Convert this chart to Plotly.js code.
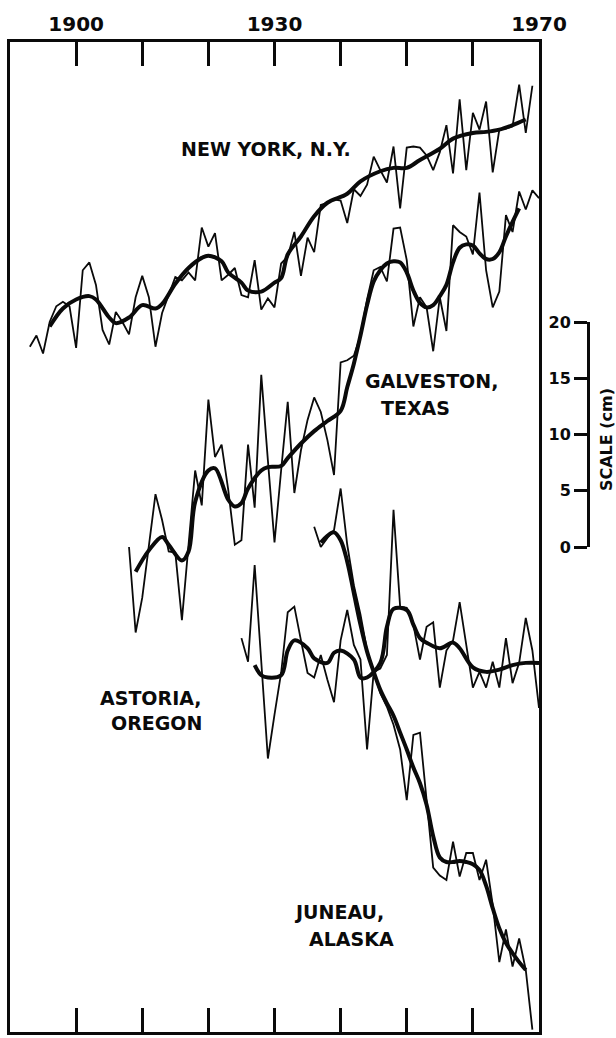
<!DOCTYPE html>
<html>
<head>
<meta charset="utf-8">
<script src="https://cdn.plot.ly/plotly-3.0.1.min.js"></script>
<style>
html,body{margin:0;padding:0;background:#fff;}
#chart{width:616px;height:1038px;}
</style>
</head>
<body>
<div id="chart"></div>
<script>
// ---- axis ticks ----
const tickYears  = [1900, 1910, 1920, 1930, 1940, 1950, 1960, 1970];
const tickLabels = ['1900', '', '', '1930', '', '', '', '1970'];
const scaleTicks  = [0, 5, 10, 15, 20];
const scaleLabels = ['0', '5', '10', '15', '20'];

// ---- New York, N.Y. (cm, stacked position) ----
const nyYears = [1893,1894,1895,1896,1897,1898,1899,
  1900,1901,1902,1903,1904,1905,1906,1907,1908,1909,
  1910,1911,1912,1913,1914,1915,1916,1917,1918,1919,
  1920,1921,1922,1923,1924,1925,1926,1927,1928,1929,
  1930,1931,1932,1933,1934,1935,1936,1937,1938,1939,
  1940,1941,1942,1943,1944,1945,1946,1947,1948,1949,
  1950,1951,1952,1953,1954,1955,1956,1957,1958,1959,
  1960,1961,1962,1963,1964,1965,1966,1967,1968,1969];
const nyAnnual = [17.8,18.8,17.2,20.0,21.4,21.8,21.4,
  17.7,24.6,25.3,23.3,19.3,18.0,20.9,20.0,18.9,22.2,
  24.1,22.2,17.8,20.8,22.4,24.0,23.7,24.4,23.7,28.4,
  26.7,27.9,23.7,24.2,24.8,22.4,22.2,25.5,21.1,22.1,
  21.3,25.2,25.8,28.0,24.1,27.5,26.2,30.4,30.6,30.9,
  30.8,28.8,31.8,31.2,32.2,34.7,33.5,32.4,35.6,30.1,
  35.5,35.6,35.5,34.8,33.5,35.1,37.5,33.2,39.8,33.5,
  38.6,37.1,39.6,33.3,37.1,37.2,37.4,41.1,36.8,41.0];
const nySmoothYears = [1896,1898,1900,1902,1903,1905,1906,1908,1910,1912,1913,1915,1917,1919,1920,1922,1923,1925,1926,1928,1930,1931,1932,1934,1936,1938,1941,1943,1946,1948,1950,1952,1955,1957,1960,1962,1964,1966,1968];
const nySmooth = [19.6,21.2,22.0,22.3,22.0,20.4,19.9,20.4,21.5,21.2,21.6,23.4,24.8,25.7,25.9,25.4,24.4,23.5,22.8,22.7,23.5,23.9,26.0,27.6,29.4,30.6,31.4,32.5,33.4,33.7,33.7,34.4,35.4,36.3,36.8,36.9,37.1,37.5,38.0];

// ---- Galveston, Texas ----
const gvYears = [1908,1909,
  1910,1911,1912,1913,1914,1915,1916,1917,1918,1919,
  1920,1921,1922,1923,1924,1925,1926,1927,1928,1929,
  1930,1931,1932,1933,1934,1935,1936,1937,1938,1939,
  1940,1941,1942,1943,1944,1945,1946,1947,1948,1949,
  1950,1951,1952,1953,1954,1955,1956,1957,1958,1959,
  1960,1961,1962,1963,1964,1965,1966,1967,1968,1969,1970];
const gvAnnual = [0.0,-7.6,
  -4.5,-0.1,4.7,2.4,-0.4,-0.5,-6.5,0.2,6.8,3.7,
  13.1,8.0,9.1,5.1,0.2,0.6,9.1,3.5,15.3,7.7,
  0.4,6.8,12.9,4.8,8.6,11.3,13.3,12.0,9.5,6.4,
  16.4,16.6,17.0,18.8,22.0,24.6,24.9,23.6,28.3,28.4,
  25.5,19.6,22.2,21.3,17.4,22.2,19.2,28.6,28.0,27.6,
  26.0,31.5,24.6,21.3,22.7,29.5,28.0,31.6,30.0,31.7,31.0];
const gvSmoothYears = [1909,1911,1913,1914,1916,1917,1918,1920,1921,1923,1924,1925,1926,1928,1929,1931,1932,1934,1936,1938,1940,1941,1942,1943,1944,1945,1946,1947,1948,1949,1950,1951,1952,1953,1954,1955,1956,1957,1958,1959,1960,1961,1962,1963,1964,1965,1966,1967];
const gvSmooth = [-2.2,-0.3,0.9,0.2,-1.2,-0.4,4.0,6.8,7.0,4.2,3.6,3.9,5.2,6.8,7.1,7.2,7.9,9.2,10.3,11.2,12.1,14.2,16.3,18.8,21.5,23.6,24.6,25.2,25.4,25.3,24.4,22.8,21.7,21.3,21.5,22.3,23.3,25.3,26.6,26.9,26.8,26.1,25.6,25.6,26.2,27.6,28.9,30.1];

// ---- Astoria, Oregon ----
const asYears = [1925,1926,1927,1928,1929,
  1930,1931,1932,1933,1934,1935,1936,1937,1938,1939,
  1940,1941,1942,1943,1944,1945,1946,1947,1948,1949,
  1950,1951,1952,1953,1954,1955,1956,1957,1958,1959,
  1960,1961,1962,1963,1964,1965,1966,1967,1968,1969,1970];
const asAnnual = [-8.1,-10.2,-1.6,-10.5,-18.8,
  -14.9,-11.2,-5.8,-5.3,-8.3,-11.2,-11.6,-9.6,-11.8,-13.8,
  -8.3,-5.6,-8.7,-10.0,-18.0,-11.1,-10.8,-9.6,3.3,-5.3,
  -5.4,-6.9,-10.0,-7.1,-6.7,-12.5,-9.2,-8.3,-4.9,-8.9,
  -12.5,-11.1,-12.5,-10.2,-12.5,-8.1,-12.1,-10.3,-6.3,-9.2,-14.3];
const asSmoothYears = [1927,1928,1929,1931,1932,1933,1935,1936,1938,1939,1940,1942,1943,1944,1946,1947,1948,1950,1951,1952,1953,1955,1957,1958,1960,1962,1964,1966,1968,1970];
const asSmooth = [-10.5,-11.4,-11.6,-11.4,-9.2,-8.3,-9.0,-9.9,-10.3,-9.4,-9.2,-10.0,-11.6,-11.6,-10.3,-7.1,-5.5,-5.6,-6.9,-8.1,-8.5,-9.0,-8.5,-9.0,-10.7,-11.1,-10.9,-10.5,-10.3,-10.3];

// ---- Juneau, Alaska ----
const juYears = [1936,1937,1938,1939,
  1940,1941,1942,1943,1944,1945,1946,1947,1948,1949,
  1950,1951,1952,1953,1954,1955,1956,1957,1958,1959,
  1960,1961,1962,1963,1964,1965,1966,1967,1968,1969];
const juAnnual = [1.8,0.0,0.8,1.5,
  5.2,0.2,-3.4,-6.0,-9.2,-11.1,-13.0,-14.2,-15.8,-18.0,
  -22.5,-16.7,-16.5,-22.5,-28.5,-29.2,-29.6,-26.2,-29.3,-27.2,
  -27.2,-29.6,-27.8,-31.8,-36.9,-34.0,-37.3,-34.8,-37.6,-42.9];
const juSmoothYears = [1937,1938,1939,1940,1941,1942,1943,1944,1945,1946,1947,1948,1949,1950,1951,1952,1953,1954,1955,1956,1957,1958,1959,1960,1961,1962,1963,1964,1965,1966,1967,1968];
const juSmooth = [0.4,1.0,1.3,0.6,-1.3,-4.1,-6.9,-9.3,-11.1,-12.7,-13.9,-15.0,-16.5,-18.0,-19.6,-21.0,-22.9,-25.7,-27.6,-28.0,-28.0,-27.9,-28.0,-28.2,-28.7,-30.1,-32.1,-33.9,-35.2,-36.1,-36.9,-37.6];

const INK = '#0a0a0a';
const FONT = 'DejaVu Sans';

function thin(x, y) {
  return {x: x, y: y, type: 'scatter', mode: 'lines', hoverinfo: 'skip',
          line: {color: INK, width: 1.8}, showlegend: false};
}
function thick(x, y) {
  return {x: x, y: y, type: 'scatter', mode: 'lines', hoverinfo: 'skip',
          line: {color: INK, width: 4, shape: 'spline', smoothing: 1}, showlegend: false};
}

const traces = [
  thin(nyYears, nyAnnual), thick(nySmoothYears, nySmooth),
  thin(gvYears, gvAnnual), thick(gvSmoothYears, gvSmooth),
  thin(asYears, asAnnual), thick(asSmoothYears, asSmooth),
  thin(juYears, juAnnual), thick(juSmoothYears, juSmooth),
  // carrier for the cm scale axis
  {x: [1890], y: [0], xaxis: 'x', yaxis: 'y2', type: 'scatter', mode: 'markers',
   marker: {opacity: 0}, hoverinfo: 'skip', showlegend: false}
];

function label(text, x, y, anchor) {
  return {text: text, x: x, y: y, xref: 'x', yref: 'y', showarrow: false,
          xanchor: anchor || 'center', yanchor: 'middle',
          font: {family: FONT, size: 19, weight: 'bold', color: INK}};
}

const layout = {
  width: 616, height: 1038,
  margin: {l: 10, r: 10, t: 42, b: 6, pad: 0},
  paper_bgcolor: '#ffffff', plot_bgcolor: 'rgba(0,0,0,0)',
  showlegend: false,
  xaxis: {
    domain: [0, 529 / 596], range: [1890, 1970], side: 'top',
    tickmode: 'array', tickvals: tickYears, ticktext: tickLabels,
    ticks: 'inside', ticklen: 24, tickwidth: 3, tickcolor: INK,
    showline: true, linewidth: 3, linecolor: INK, mirror: 'ticks',
    showgrid: false, zeroline: false, fixedrange: true,
    tickfont: {family: FONT, size: 20, weight: 'bold', color: INK}
  },
  yaxis: {
    range: [-43.111, 44.889], showline: true, linewidth: 3, linecolor: INK,
    mirror: true, showticklabels: false, ticks: '', showgrid: false,
    zeroline: false, fixedrange: true
  },
  yaxis2: {
    domain: [485 / 990, 710 / 990], range: [0, 20], anchor: 'free',
    position: 578 / 596, side: 'left',
    tickmode: 'array', tickvals: scaleTicks, ticktext: scaleLabels,
    ticks: 'outside', ticklen: 13, tickwidth: 3, tickcolor: INK,
    showline: true, linewidth: 3, linecolor: INK, showgrid: false,
    zeroline: false, fixedrange: true,
    tickfont: {family: FONT, size: 16, weight: 'bold', color: INK}
  },
  annotations: [
    label('NEW YORK, N.Y.', 1928.7, 35.4),
    label('GALVESTON,', 1943.4, 14.8, 'left'),
    label('TEXAS', 1945.8, 12.4, 'left'),
    label('ASTORIA,', 1911.3, -13.4),
    label('OREGON', 1912.1, -15.6),
    label('JUNEAU,', 1939.8, -32.4),
    label('ALASKA', 1941.7, -34.8),
    {text: 'SCALE (cm)', xref: 'paper', yref: 'y2', x: 1.0, y: 9.5,
     showarrow: false, textangle: -90, xanchor: 'center', yanchor: 'middle',
     font: {family: FONT, size: 16, weight: 'bold', color: INK}}
  ]
};

Plotly.newPlot('chart', traces, layout, {staticPlot: true, displayModeBar: false});
</script>
</body>
</html>
